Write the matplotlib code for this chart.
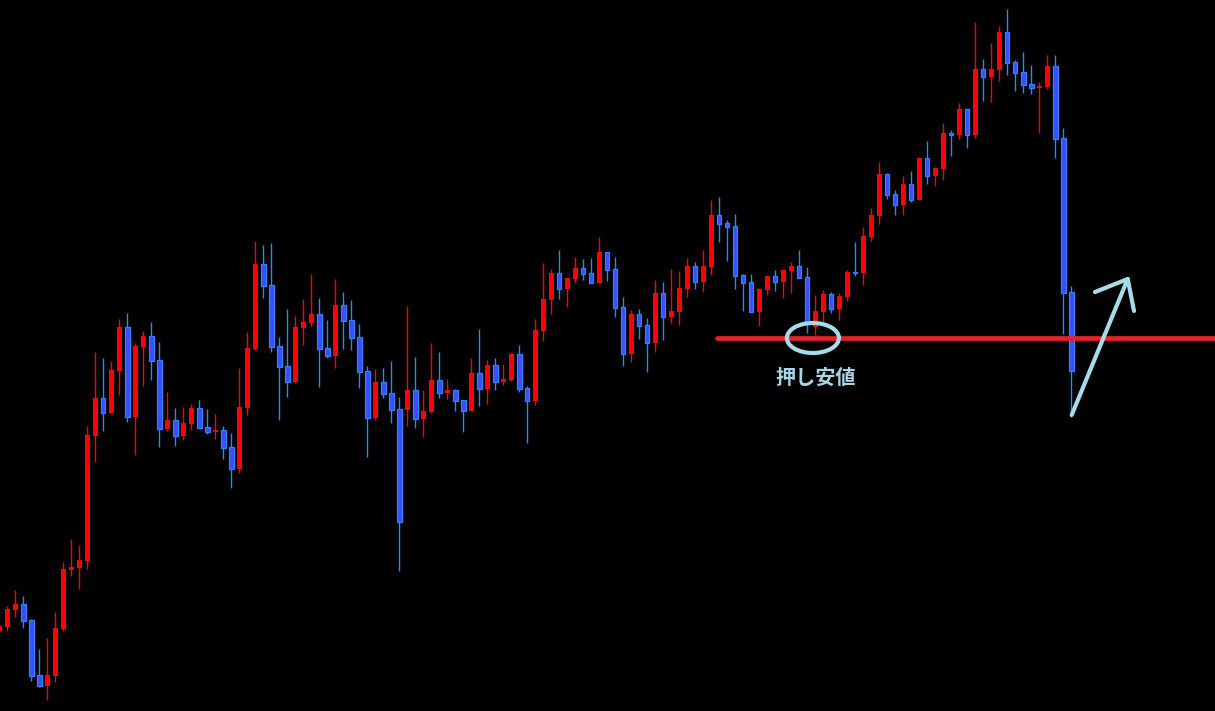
import matplotlib.pyplot as plt
from matplotlib.patches import Ellipse
import numpy as np

# %%
# OHLC (price units = pixels above the bottom edge)
opens = [80, 84, 101, 107, 91, 36, 25, 35, 82, 141, 143, 150, 275, 313, 298, 340, 384, 294, 364, 375,
         351, 282, 291, 275, 287, 303, 284, 279, 281, 264, 242, 303, 362, 447, 426, 365, 345, 329, 383, 388,
         397, 363, 355, 406, 391, 374, 340, 293, 329, 318, 302, 301, 321, 292, 299, 331, 318, 321, 311, 300,
         338, 322, 346, 329, 331, 357, 323, 310, 380, 411, 438, 422, 432, 443, 438, 428, 459, 442, 404, 357,
         397, 386, 368, 418, 394, 399, 422, 445, 429, 444, 496, 488, 485, 436, 429, 399, 421, 435, 429, 440,
         445, 434, 384, 399, 417, 402, 414, 439, 438, 474, 495, 537, 517, 506, 527, 511, 553, 535, 542, 578,
         576, 602, 576, 642, 634, 641, 679, 649, 639, 627, 623, 624, 645, 573, 419]
highs = [87, 105, 121, 115, 92, 62, 73, 99, 149, 172, 166, 285, 359, 353, 350, 392, 398, 368, 380, 389,
         369, 319, 303, 304, 307, 311, 302, 297, 285, 278, 343, 379, 470, 466, 468, 374, 402, 395, 412, 437,
         413, 391, 432, 419, 411, 387, 345, 342, 343, 350, 314, 405, 354, 321, 368, 359, 332, 322, 311, 353,
         382, 351, 353, 347, 358, 366, 325, 392, 448, 442, 461, 433, 454, 452, 453, 474, 459, 454, 414, 401,
         402, 393, 431, 429, 442, 440, 453, 449, 461, 511, 514, 491, 497, 437, 437, 423, 435, 441, 441, 449,
         461, 444, 416, 421, 419, 418, 441, 469, 484, 503, 549, 538, 521, 535, 540, 553, 570, 544, 588, 581,
         608, 602, 689, 652, 668, 685, 702, 651, 659, 646, 629, 656, 656, 583, 425]
lows = [78, 80, 94, 83, 30, 24, 11, 29, 80, 135, 122, 142, 249, 280, 298, 316, 289, 256, 325, 331,
        264, 280, 265, 271, 281, 283, 277, 272, 252, 223, 238, 296, 361, 413, 359, 291, 314, 328, 366, 385,
        324, 353, 343, 362, 361, 323, 254, 291, 313, 288, 140, 285, 283, 274, 298, 313, 312, 300, 279, 300,
        305, 307, 321, 326, 330, 319, 268, 306, 370, 397, 412, 404, 428, 431, 428, 428, 430, 394, 345, 349,
        372, 339, 359, 371, 388, 386, 414, 422, 419, 436, 469, 450, 422, 400, 399, 385, 416, 420, 413, 418,
        433, 378, 376, 389, 398, 391, 410, 435, 426, 470, 487, 512, 496, 496, 509, 511, 527, 525, 531, 555,
        572, 563, 573, 610, 609, 630, 636, 620, 618, 617, 578, 622, 553, 377, 294]
closes = [85, 102, 107, 90, 35, 25, 36, 83, 142, 144, 151, 276, 313, 298, 341, 384, 294, 365, 375, 350,
          282, 291, 275, 288, 303, 283, 279, 281, 263, 242, 304, 363, 447, 425, 364, 344, 329, 384, 389, 397,
          362, 355, 406, 390, 373, 339, 293, 329, 317, 301, 189, 321, 292, 300, 331, 318, 321, 310, 300, 338,
          322, 346, 329, 332, 357, 322, 310, 381, 412, 438, 422, 433, 443, 437, 428, 459, 441, 403, 357, 397,
          385, 368, 418, 394, 400, 423, 445, 429, 445, 496, 487, 484, 435, 428, 399, 422, 435, 429, 441, 445,
          433, 389, 400, 417, 402, 415, 439, 438, 475, 496, 537, 516, 506, 527, 511, 553, 535, 543, 578, 576,
          602, 576, 642, 634, 642, 679, 648, 638, 626, 623, 625, 645, 572, 418, 340]

# support line and annotation
support_level = 373
support_start = 88.7
label_text = '押し安値'
label_pos = (101, 334)
circle_center = (100.7, 373)
arrow_path_x = [133.05, 140.05]
arrow_path_y = [296, 432]
arrow_head_x = [135.96, 140.05, 140.84]
arrow_head_y = [419, 432, 400]

# %%
opens = np.array(opens)
highs = np.array(highs)
lows = np.array(lows)
closes = np.array(closes)
idx = np.arange(len(opens)) - 1  # first candle is cut by the left edge
up = closes >= opens

fig = plt.figure(figsize=(12.15, 7.11), dpi=100, facecolor='black')
ax = fig.add_axes([0, 0, 1, 1])
ax.set_facecolor('black')
ax.set_xlim(-0.9125, -0.9125 + 1215 / 8)
ax.set_ylim(0, 711)
ax.axis('off')

red = '#ff0000'
blue_face = '#3d4cff'
blue_edge = '#2b86ff'

# wicks
ax.vlines(idx[up], lows[up], highs[up], color=red, lw=1.0, zorder=2)
ax.vlines(idx[~up], lows[~up], highs[~up], color=blue_edge, lw=1.0, zorder=2)

# bodies
body_low = np.minimum(opens, closes)
body_h = np.maximum(np.abs(closes - opens), 1.5)
ax.bar(idx[up], body_h[up], bottom=body_low[up], width=0.62, color=red, lw=0, zorder=3)
ax.bar(idx[~up], body_h[~up], bottom=body_low[~up], width=0.55, color=blue_face,
       edgecolor=blue_edge, lw=0.9, zorder=3)

# support line
ax.plot([support_start, 160], [support_level, support_level], color='#e8202a', lw=3.4,
        solid_capstyle='round', zorder=4)

light = '#a6dcea'
ax.add_patch(Ellipse(circle_center, 6.5, 30, fill=False, ec=light, lw=3.0, zorder=5))
ax.text(label_pos[0], label_pos[1], label_text, color='#a8d6e4', fontsize=14.5, fontweight='bold',
        family=['Noto Sans CJK JP', 'DejaVu Sans'], ha='center', va='center', zorder=5)

ax.plot(arrow_path_x, arrow_path_y, color=light, lw=3.0, solid_capstyle='round', zorder=5)
ax.plot(arrow_head_x, arrow_head_y, color=light, lw=3.0, solid_capstyle='round',
        solid_joinstyle='round', zorder=5)

fig.savefig('out.png', dpi=100, facecolor='black')
